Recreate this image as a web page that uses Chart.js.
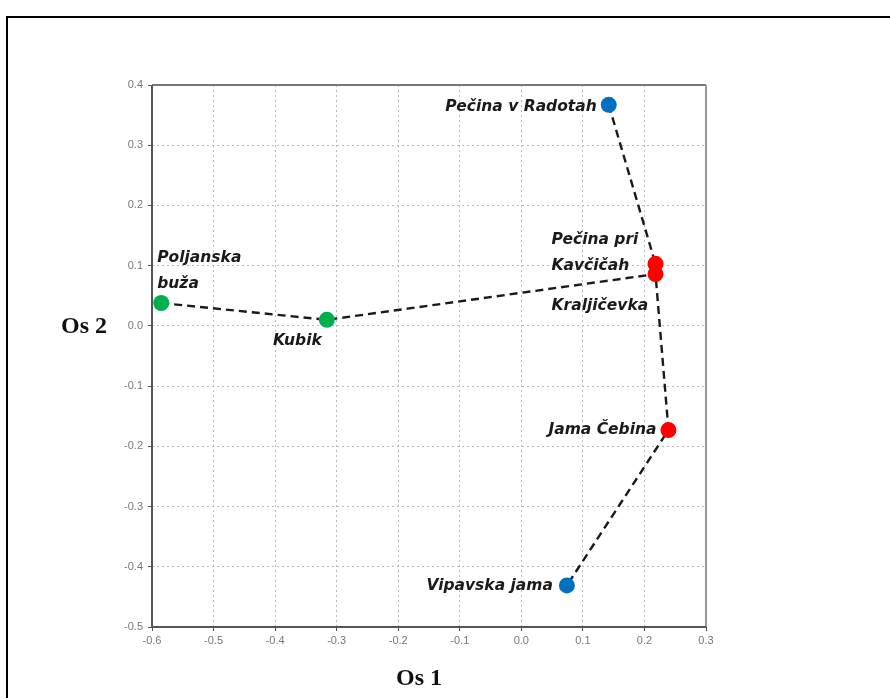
<!DOCTYPE html>
<html>
<head>
<meta charset="utf-8">
<script src="https://cdn.jsdelivr.net/npm/chart.js@4/dist/chart.umd.min.js"></script>
<style>
  body { margin: 0; background: #fff; }
  #wrap { width: 890px; height: 698px; }
</style>
</head>
<body>
<div id="wrap"><canvas id="chart" width="890" height="698"></canvas></div>
<script>
// sites and their scores on the two axes
const sites = ['Pečina v Radotah', 'Pečina pri Kavčičah', 'Kraljičevka', 'Jama Čebina', 'Vipavska jama', 'Poljanska buža', 'Kubik'];
const os1 = [0.142, 0.218, 0.218, 0.239, 0.074, -0.585, -0.316];
const os2 = [0.367, 0.103, 0.086, -0.173, -0.431, 0.038, 0.010];
const groups = ['blue', 'red', 'red', 'red', 'blue', 'green', 'green'];

// dashed connections between sites
const pathA = ['Pečina v Radotah', 'Pečina pri Kavčičah', 'Kraljičevka', 'Jama Čebina', 'Vipavska jama'];
const pathB = ['Poljanska buža', 'Kubik', 'Kraljičevka'];

const xTickLabels = ['-0.6', '-0.5', '-0.4', '-0.3', '-0.2', '-0.1', '0.0', '0.1', '0.2', '0.3'];
const yTickLabels = ['-0.5', '-0.4', '-0.3', '-0.2', '-0.1', '0.0', '0.1', '0.2', '0.3', '0.4'];

const groupColors = { blue: '#0070C0', red: '#FF0000', green: '#00B050' };

function pt(name) {
  const i = sites.indexOf(name);
  return { x: os1[i], y: os2[i] };
}

const pointSets = Object.keys(groupColors).map(g => ({
  label: g,
  data: sites.map((s, i) => groups[i] === g ? { x: os1[i], y: os2[i], name: s } : null).filter(Boolean),
  backgroundColor: groupColors[g],
  borderColor: groupColors[g],
  pointRadius: 8,
  pointBorderWidth: 0,
  order: 0
}));

const lineSet = path => ({
  label: 'path',
  data: path.map(pt),
  showLine: true,
  borderColor: '#1a1a1a',
  borderWidth: 2.4,
  borderDash: [8, 5],
  pointRadius: 0,
  order: 1
});

// where each label sits relative to its point
const labelPos = {
  'Pečina v Radotah': { lines: ['Pečina v Radotah'], dx: -12, dy: 2, align: 'right' },
  'Pečina pri Kavčičah': { lines: ['Pečina pri', 'Kavčičah'], dx: -104, dy: -24, align: 'left' },
  'Kraljičevka': { lines: ['Kraljičevka'], dx: -104, dy: 32, align: 'left' },
  'Jama Čebina': { lines: ['Jama Čebina'], dx: -12, dy: 0, align: 'right' },
  'Vipavska jama': { lines: ['Vipavska jama'], dx: -14, dy: 1, align: 'right' },
  'Poljanska buža': { lines: ['Poljanska', 'buža'], dx: -4, dy: -45, align: 'left' },
  'Kubik': { lines: ['Kubik'], dx: -5, dy: 21, align: 'right' }
};

const decor = {
  id: 'decor',
  beforeDraw(chart) {
    const c = chart.ctx;
    c.save();
    c.strokeStyle = '#000';
    c.lineWidth = 2;
    c.beginPath();
    c.moveTo(7, 698);
    c.lineTo(7, 17);
    c.lineTo(890, 17);
    c.stroke();
    c.restore();
  },
  beforeDatasetsDraw(chart) {
    const c = chart.ctx;
    const a = chart.chartArea;
    c.save();
    c.setLineDash([]);
    c.lineWidth = 2;
    // frame round the plot
    c.strokeStyle = '#777';
    c.beginPath();
    c.moveTo(a.left, a.top);
    c.lineTo(a.right, a.top);
    c.stroke();
    c.strokeStyle = '#999';
    c.beginPath();
    c.moveTo(a.right, a.top);
    c.lineTo(a.right, a.bottom);
    c.stroke();
    c.strokeStyle = '#555';
    c.beginPath();
    c.moveTo(a.left, a.top);
    c.lineTo(a.left, a.bottom);
    c.lineTo(a.right, a.bottom);
    c.stroke();
    c.restore();
  },
  afterDraw(chart) {
    const c = chart.ctx;
    c.save();
    // site labels
    c.fillStyle = '#1a1a1a';
    c.font = 'italic bold 15.5px "DejaVu Sans"';
    c.textBaseline = 'middle';
    const xs = chart.scales.x, ys = chart.scales.y;
    sites.forEach((s, i) => {
      const p = labelPos[s];
      const px = xs.getPixelForValue(os1[i]);
      const py = ys.getPixelForValue(os2[i]);
      c.textAlign = p.align;
      p.lines.forEach((t, k) => c.fillText(t, px + p.dx, py + p.dy + k * 26));
    });

    // axis titles
    c.fillStyle = '#111';
    c.font = 'bold 24px "Liberation Serif"';
    c.textAlign = 'center';
    c.fillText('Os 2', 84, 327);
    c.fillText('Os 1', 419, 679);
    c.restore();
  }
};

const axisStyle = {
  grid: { color: '#bbb', tickColor: '#555', tickLength: 4, tickBorderDash: [], tickWidth: 1 },
  border: { display: false, dash: [2, 3] }
};

new Chart(document.getElementById('chart').getContext('2d'), {
  type: 'scatter',
  data: { datasets: [...pointSets, lineSet(pathA), lineSet(pathB)] },
  options: {
    responsive: false,
    animation: false,
    events: [],
    layout: { padding: { top: 85, right: 184, left: 0, bottom: 0 } },
    plugins: { legend: { display: false }, tooltip: { enabled: false } },
    scales: {
      x: {
        type: 'linear',
        min: parseFloat(xTickLabels[0]),
        max: parseFloat(xTickLabels[xTickLabels.length - 1]),
        afterBuildTicks: s => { s.ticks = xTickLabels.map(v => ({ value: parseFloat(v) })); },
        afterFit: s => { s.height = 71; },
        ticks: {
          callback: (v, i) => xTickLabels[i],
          color: '#777',
          font: { family: 'Liberation Sans', size: 11 },
          padding: 3,
          maxRotation: 0
        },
        ...axisStyle
      },
      y: {
        type: 'linear',
        min: parseFloat(yTickLabels[0]),
        max: parseFloat(yTickLabels[yTickLabels.length - 1]),
        afterBuildTicks: s => { s.ticks = yTickLabels.map(v => ({ value: parseFloat(v) })); },
        afterFit: s => { s.width = 152; },
        ticks: {
          callback: (v, i) => yTickLabels[i],
          color: '#777',
          font: { family: 'Liberation Sans', size: 11 },
          padding: 5
        },
        ...axisStyle
      }
    }
  },
  plugins: [decor]
});
</script>
</body>
</html>
